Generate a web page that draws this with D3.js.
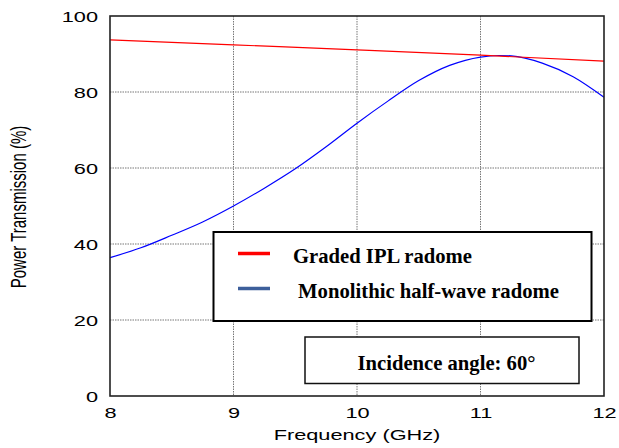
<!DOCTYPE html>
<html>
<head>
<meta charset="utf-8">
<script src="https://cdn.jsdelivr.net/npm/d3@7"></script>
<style>
  html, body { margin: 0; padding: 0; background: #fff; }
  svg { display: block; }
</style>
</head>
<body>
<svg id="chart" width="619" height="448"></svg>
<script>
// Frequency axis (GHz) and power transmission (%) for the two radome designs
const freqGraded = [8, 9, 10, 11, 12];
const transGraded = [93.7, 92.4, 91.1, 89.7, 88.1];

const freqMono = [8, 8.25, 8.5, 8.75, 9, 9.25, 9.5, 9.75, 10, 10.25, 10.5, 10.75, 11, 11.15, 11.25, 11.5, 11.75, 12];
const transMono = [36.4, 39.0, 42.3, 45.8, 50.0, 54.7, 59.8, 65.6, 71.8, 77.6, 83.0, 87.0, 89.2, 89.6, 89.5, 87.6, 84.0, 78.6];

const xTicks = [8, 9, 10, 11, 12];
const yTicks = [0, 20, 40, 60, 80, 100];

const seriesNames = ["Graded IPL radome", "Monolithic half-wave radome"];
const noteText = "Incidence angle: 60°";
const xTitle = "Frequency (GHz)";
const yTitle = "Power Transmission (%)";

const svg = d3.select("#chart");
const plot = { left: 110, right: 604, top: 16, bottom: 396 };
const SX = 1.45; // horizontal stretch of the sans-serif axis text

const x = d3.scaleLinear().domain([8, 12]).range([plot.left, plot.right]);
const y = d3.scaleLinear().domain([0, 100]).range([plot.bottom, plot.top]);

// dotted grid
const grid = svg.append("g");
grid.selectAll("line.vx").data(xTicks.slice(1, -1)).join("line")
  .attr("x1", d => x(d)).attr("x2", d => x(d))
  .attr("y1", plot.top).attr("y2", plot.bottom)
  .attr("stroke", "#777").attr("stroke-width", 1).attr("stroke-dasharray", "1.5,1");
grid.selectAll("line.hy").data(yTicks.slice(1, -1)).join("line")
  .attr("x1", plot.left).attr("x2", plot.right)
  .attr("y1", d => y(d)).attr("y2", d => y(d))
  .attr("stroke", "#777").attr("stroke-width", 1).attr("stroke-dasharray", "1.5,1");

// curves
const line = (xs, ys) => d3.line()
  .x((d, i) => x(xs[i])).y((d, i) => y(ys[i]))
  .curve(d3.curveMonotoneX)(ys);

svg.append("path").attr("d", line(freqMono, transMono))
  .attr("fill", "none").attr("stroke", "#0000ff").attr("stroke-width", 1.2);
svg.append("path").attr("d", line(freqGraded, transGraded))
  .attr("fill", "none").attr("stroke", "#ff0000").attr("stroke-width", 1.2);

// frame
svg.append("rect")
  .attr("x", plot.left).attr("y", plot.top)
  .attr("width", plot.right - plot.left).attr("height", plot.bottom - plot.top)
  .attr("fill", "none").attr("stroke", "#222").attr("stroke-width", 1.6);

// axes (labels only; frame and grid drawn above)
const sansFont = "'Liberation Sans', Arial, sans-serif";
const xAxis = svg.append("g").attr("transform", `translate(0,${plot.bottom})`)
  .call(d3.axisBottom(x).tickValues(xTicks).tickFormat(d3.format("d")).tickSize(0).tickPadding(0));
xAxis.select(".domain").remove();
xAxis.selectAll(".tick text")
  .attr("y", 0).attr("dy", 0)
  .attr("transform", `translate(0,22) scale(${SX},1)`)
  .attr("font-family", sansFont).attr("font-size", 15).attr("fill", "#000");

const yAxis = svg.append("g").attr("transform", `translate(${plot.left - 12},0)`)
  .call(d3.axisLeft(y).tickValues(yTicks).tickFormat(d3.format("d")).tickSize(0).tickPadding(0));
yAxis.select(".domain").remove();
yAxis.selectAll(".tick text")
  .attr("x", 0).attr("dy", 0)
  .attr("transform", `translate(0,5.5) scale(${SX},1)`)
  .attr("font-family", sansFont).attr("font-size", 15).attr("fill", "#000");

// axis titles
svg.append("text")
  .attr("transform", `translate(${(plot.left + plot.right) / 2},440) scale(${SX},1)`)
  .attr("text-anchor", "middle")
  .attr("font-family", sansFont).attr("font-size", 15).attr("fill", "#000")
  .text(xTitle);
svg.append("text")
  .attr("transform", `translate(26,${(plot.top + plot.bottom) / 2 + 1}) scale(${SX},1) rotate(-90)`)
  .attr("text-anchor", "middle")
  .attr("font-family", sansFont).attr("font-size", 15).attr("fill", "#000")
  .text(yTitle);

// legend
const serifFont = "'Liberation Serif', 'Times New Roman', serif";
const legend = svg.append("g");
legend.append("rect")
  .attr("x", 213.5).attr("y", 232).attr("width", 378).attr("height", 89)
  .attr("fill", "#fff").attr("stroke", "#000").attr("stroke-width", 2);
const legendColors = ["#ff0000", "#3d5f9b"];
const legendRows = [253.5, 288.5];
const legendTextX = [293, 298];
const legendTextW = [179, 261];
seriesNames.forEach((name, i) => {
  legend.append("line")
    .attr("x1", 238).attr("x2", 270)
    .attr("y1", legendRows[i]).attr("y2", legendRows[i])
    .attr("stroke", legendColors[i]).attr("stroke-width", 3.5);
  legend.append("text")
    .attr("x", legendTextX[i]).attr("y", legendRows[i] + 9.5)
    .attr("font-family", serifFont).attr("font-weight", "bold").attr("font-size", 22)
    .attr("textLength", legendTextW[i]).attr("lengthAdjust", "spacingAndGlyphs")
    .attr("fill", "#000")
    .text(name);
});

// incidence angle note
svg.append("rect")
  .attr("x", 305).attr("y", 337).attr("width", 274).attr("height", 46.5)
  .attr("fill", "#fff").attr("stroke", "#111").attr("stroke-width", 1.5);
svg.append("text")
  .attr("x", 357.5).attr("y", 369.5)
  .attr("font-family", serifFont).attr("font-weight", "bold").attr("font-size", 21)
  .attr("textLength", 178).attr("lengthAdjust", "spacingAndGlyphs")
  .attr("fill", "#000")
  .text(noteText);
</script>
</body>
</html>
